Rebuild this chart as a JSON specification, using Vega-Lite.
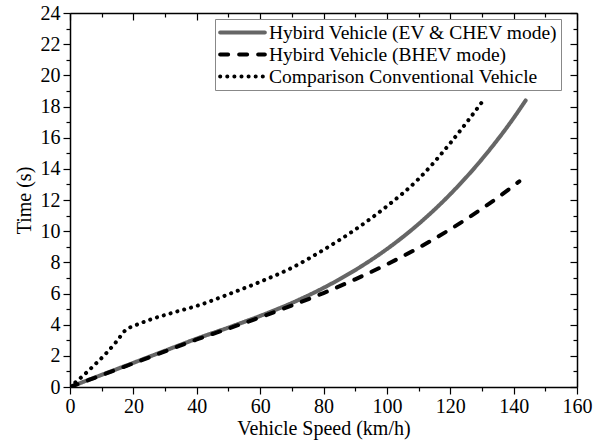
{
  "$schema": "https://vega.github.io/schema/vega-lite/v6.json",
  "autosize": {"type": "none"},
  "width": 507,
  "height": 374,
  "padding": {"left": 70, "top": 13, "right": 27, "bottom": 58},
  "background": "white",
  "config": {
    "font": "Liberation Serif",
    "view": {"stroke": null},
    "axis": {
      "domainColor": "black",
      "domainWidth": 1.5,
      "tickColor": "black",
      "tickWidth": 1.2,
      "grid": false,
      "labelFont": "Liberation Serif",
      "labelFontSize": 20,
      "labelColor": "black",
      "titleFont": "Liberation Serif",
      "titleFontSize": 20,
      "titleFontWeight": "normal",
      "titleColor": "black"
    }
  },
  "data": {
    "values": [
      {"series": "Hybird Vehicle (EV & CHEV mode)", "speed": 0, "time": 0},
      {"series": "Hybird Vehicle (EV & CHEV mode)", "speed": 10, "time": 0.78},
      {"series": "Hybird Vehicle (EV & CHEV mode)", "speed": 20, "time": 1.55},
      {"series": "Hybird Vehicle (EV & CHEV mode)", "speed": 30, "time": 2.33},
      {"series": "Hybird Vehicle (EV & CHEV mode)", "speed": 40, "time": 3.1},
      {"series": "Hybird Vehicle (EV & CHEV mode)", "speed": 50, "time": 3.81},
      {"series": "Hybird Vehicle (EV & CHEV mode)", "speed": 60, "time": 4.56},
      {"series": "Hybird Vehicle (EV & CHEV mode)", "speed": 70, "time": 5.39},
      {"series": "Hybird Vehicle (EV & CHEV mode)", "speed": 80, "time": 6.36},
      {"series": "Hybird Vehicle (EV & CHEV mode)", "speed": 90, "time": 7.5},
      {"series": "Hybird Vehicle (EV & CHEV mode)", "speed": 100, "time": 8.85},
      {"series": "Hybird Vehicle (EV & CHEV mode)", "speed": 110, "time": 10.46},
      {"series": "Hybird Vehicle (EV & CHEV mode)", "speed": 120, "time": 12.37},
      {"series": "Hybird Vehicle (EV & CHEV mode)", "speed": 130, "time": 14.62},
      {"series": "Hybird Vehicle (EV & CHEV mode)", "speed": 140, "time": 17.26},
      {"series": "Hybird Vehicle (EV & CHEV mode)", "speed": 143.8, "time": 18.39},
      {"series": "Hybird Vehicle (BHEV mode)", "speed": 0, "time": 0},
      {"series": "Hybird Vehicle (BHEV mode)", "speed": 10, "time": 0.76},
      {"series": "Hybird Vehicle (BHEV mode)", "speed": 20, "time": 1.52},
      {"series": "Hybird Vehicle (BHEV mode)", "speed": 30, "time": 2.29},
      {"series": "Hybird Vehicle (BHEV mode)", "speed": 40, "time": 3.05},
      {"series": "Hybird Vehicle (BHEV mode)", "speed": 50, "time": 3.75},
      {"series": "Hybird Vehicle (BHEV mode)", "speed": 60, "time": 4.47},
      {"series": "Hybird Vehicle (BHEV mode)", "speed": 70, "time": 5.23},
      {"series": "Hybird Vehicle (BHEV mode)", "speed": 80, "time": 6.03},
      {"series": "Hybird Vehicle (BHEV mode)", "speed": 90, "time": 6.91},
      {"series": "Hybird Vehicle (BHEV mode)", "speed": 100, "time": 7.87},
      {"series": "Hybird Vehicle (BHEV mode)", "speed": 110, "time": 8.93},
      {"series": "Hybird Vehicle (BHEV mode)", "speed": 120, "time": 10.12},
      {"series": "Hybird Vehicle (BHEV mode)", "speed": 130, "time": 11.44},
      {"series": "Hybird Vehicle (BHEV mode)", "speed": 135, "time": 12.16},
      {"series": "Hybird Vehicle (BHEV mode)", "speed": 141.8, "time": 13.2},
      {"series": "Comparison Conventional Vehicle", "speed": 0, "time": 0},
      {"series": "Comparison Conventional Vehicle", "speed": 2, "time": 0.35},
      {"series": "Comparison Conventional Vehicle", "speed": 4, "time": 0.7},
      {"series": "Comparison Conventional Vehicle", "speed": 7.7, "time": 1.41},
      {"series": "Comparison Conventional Vehicle", "speed": 11.4, "time": 2.16},
      {"series": "Comparison Conventional Vehicle", "speed": 14.6, "time": 2.9},
      {"series": "Comparison Conventional Vehicle", "speed": 17.7, "time": 3.68},
      {"series": "Comparison Conventional Vehicle", "speed": 20.3, "time": 3.93},
      {"series": "Comparison Conventional Vehicle", "speed": 25, "time": 4.3},
      {"series": "Comparison Conventional Vehicle", "speed": 33, "time": 4.8},
      {"series": "Comparison Conventional Vehicle", "speed": 41, "time": 5.27},
      {"series": "Comparison Conventional Vehicle", "speed": 50, "time": 5.95},
      {"series": "Comparison Conventional Vehicle", "speed": 60, "time": 6.75},
      {"series": "Comparison Conventional Vehicle", "speed": 70, "time": 7.65},
      {"series": "Comparison Conventional Vehicle", "speed": 80, "time": 8.8},
      {"series": "Comparison Conventional Vehicle", "speed": 90, "time": 10.1},
      {"series": "Comparison Conventional Vehicle", "speed": 100, "time": 11.6},
      {"series": "Comparison Conventional Vehicle", "speed": 110, "time": 13.35},
      {"series": "Comparison Conventional Vehicle", "speed": 120, "time": 15.65},
      {"series": "Comparison Conventional Vehicle", "speed": 126, "time": 17.2},
      {"series": "Comparison Conventional Vehicle", "speed": 130.8, "time": 18.5}
    ]
  },
  "layer": [
    {
      "mark": {"type": "line", "strokeWidth": 4, "strokeCap": "round", "interpolate": "monotone", "clip": true},
      "encoding": {
        "x": {
          "field": "speed", "type": "quantitative",
          "scale": {"domain": [0, 160], "nice": false, "zero": false},
          "axis": {
            "orient": "bottom",
            "title": "Vehicle Speed (km/h)",
            "values": [0, 10, 20, 30, 40, 50, 60, 70, 80, 90, 100, 110, 120, 130, 140, 150, 160],
            "labelExpr": "datum.value % 20 === 0 ? datum.label : ''",
            "tickSize": {"condition": {"test": "datum.value % 20 === 0", "value": 7}, "value": 4},
            "labelPadding": 2,
            "titlePadding": 2,
            "labelFlush": false,
            "labelOverlap": false
          }
        },
        "y": {
          "field": "time", "type": "quantitative",
          "scale": {"domain": [0, 24], "nice": false, "zero": false},
          "axis": {
            "orient": "left",
            "title": "Time (s)",
            "values": [0, 1, 2, 3, 4, 5, 6, 7, 8, 9, 10, 11, 12, 13, 14, 15, 16, 17, 18, 19, 20, 21, 22, 23, 24],
            "labelExpr": "datum.value % 2 === 0 ? datum.label : ''",
            "tickSize": {"condition": {"test": "datum.value % 2 === 0", "value": 7}, "value": 4},
            "labelPadding": 3,
            "titlePadding": 6,
            "labelFlush": false,
            "labelOverlap": false
          }
        },
        "color": {
          "field": "series", "type": "nominal",
          "scale": {
            "domain": ["Hybird Vehicle (EV & CHEV mode)", "Hybird Vehicle (BHEV mode)", "Comparison Conventional Vehicle"],
            "range": ["#666666", "#000000", "#000000"]
          },
          "legend": {
            "orient": "none",
            "legendX": 145,
            "legendY": 6,
            "title": null,
            "fillColor": "white",
            "strokeColor": "#888888",
            "padding": 3,
            "symbolType": "stroke",
            "symbolSize": 2000,
            "symbolStrokeWidth": 4,
            "labelFont": "Liberation Serif",
            "labelFontSize": 19.5,
            "labelColor": "black",
            "labelLimit": 0,
            "labelOffset": 2,
            "clipHeight": 21,
            "rowPadding": 1,
            "encode": {"symbols": {"update": {"strokeCap": {"value": "round"}}}}
          }
        },
        "strokeDash": {
          "field": "series", "type": "nominal",
          "scale": {
            "domain": ["Hybird Vehicle (EV & CHEV mode)", "Hybird Vehicle (BHEV mode)", "Comparison Conventional Vehicle"],
            "range": [[1, 0], [8, 11], [0.1, 7]]
          },
          "legend": null
        }
      }
    },
    {
      "mark": {"type": "line", "opacity": 0},
      "encoding": {
        "x": {
          "field": "speed", "type": "quantitative",
          "axis": {
            "orient": "top",
            "title": null,
            "labels": false,
            "values": [0, 10, 20, 30, 40, 50, 60, 70, 80, 90, 100, 110, 120, 130, 140, 150, 160],
            "tickSize": {"condition": {"test": "datum.value % 20 === 0", "value": -7}, "value": -4}
          }
        },
        "y": {
          "field": "time", "type": "quantitative",
          "axis": {
            "orient": "right",
            "title": null,
            "labels": false,
            "values": [0, 1, 2, 3, 4, 5, 6, 7, 8, 9, 10, 11, 12, 13, 14, 15, 16, 17, 18, 19, 20, 21, 22, 23, 24],
            "tickSize": {"condition": {"test": "datum.value % 2 === 0", "value": -7}, "value": -4}
          }
        },
        "detail": {"field": "series", "type": "nominal"}
      }
    }
  ],
  "resolve": {"axis": {"x": "independent", "y": "independent"}}
}
